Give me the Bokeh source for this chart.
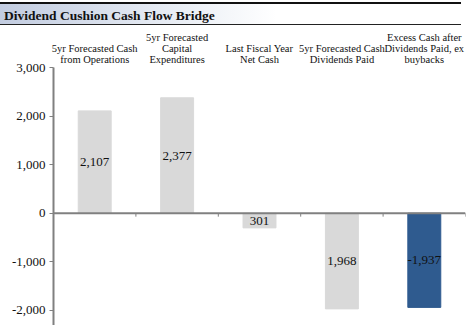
from bokeh.plotting import figure
from bokeh.models import (Div, Span, FixedTicker, NumeralTickFormatter, LinearAxis,
                          ColumnDataSource, Range1d)
from bokeh.layouts import column
from bokeh.embed import file_html
from bokeh.resources import INLINE
from bokeh.core.properties import value

title = "Dividend Cushion Cash Flow Bridge"
categories = [
    "5yr Forecasted Cash\nfrom Operations",
    "5yr Forecasted\nCapital\nExpenditures",
    "Last Fiscal Year\nNet Cash",
    "5yr Forecasted Cash\nDividends Paid",
    "Excess Cash after\nDividends Paid, ex\nbuybacks",
]
values = [2107, 2377, -301, -1968, -1937]
labels = ["2,107", "2,377", "301", "1,968", "-1,937"]
colors = ["#d9d9d9", "#d9d9d9", "#d9d9d9", "#d9d9d9", "#2f5b8f"]
y_ticks = [-2000, -1000, 0, 1000, 2000, 3000]

FONT = "Liberation Serif"
n = len(categories)
xs = list(range(1, n + 1))

src = ColumnDataSource(dict(
    x=xs, top=values, bottom=[0] * n, color=colors,
    label=labels, ly=[v / 2 for v in values],
))

head = Div(
    width=471, height=28, margin=0,
    text=('<div style="margin-top:2px;height:23px;border-top:2px solid #111;'
          'border-bottom:1px solid #222;'
          'background:linear-gradient(to right,#c2cce0 0%,#e6ebf3 35%,#ffffff 60%);'
          'font-family:\'Liberation Serif\';font-weight:bold;font-size:13.5px;'
          'line-height:24px;padding-left:4px;color:#111;width:461px;">'
          + title + '</div>'),
)

p = figure(width=471, height=297, output_backend="svg", toolbar_location=None,
           title_location=None, margin=0,
           x_range=Range1d(0.5, n + 0.5), y_range=Range1d(-2310, 3000),
           x_axis_location=None, y_axis_location=None,
           min_border_left=53, min_border_right=6, min_border_top=39, min_border_bottom=0)
p.outline_line_color = None
p.xgrid.visible = False
p.ygrid.visible = False

p.vbar(x="x", top="top", bottom="bottom", width=0.4, color="color", source=src)
p.text(x="x", y="ly", text="label", source=src, text_align="center",
       text_baseline="middle", text_font=value(FONT), text_font_size="13px",
       text_color="#111111")

# zero line with category-boundary ticks
p.add_layout(Span(location=0, dimension="width", line_color="#808080", line_width=2))
bounds = [i + 0.5 for i in xs]
p.segment(x0=bounds, y0=[0] * n, x1=bounds, y1=[-70] * n, line_color="#808080",
          line_width=1)

yax = LinearAxis(ticker=FixedTicker(ticks=y_ticks),
                 formatter=NumeralTickFormatter(format="0,0"))
yax.axis_line_color = "#808080"
yax.axis_line_width = 2
yax.major_tick_line_color = "#808080"
yax.major_tick_out = 4
yax.major_tick_in = 0
yax.minor_tick_line_color = None
yax.major_label_text_font = FONT
yax.major_label_text_font_size = "13px"
yax.major_label_text_color = "#111111"
yax.major_label_standoff = 4
p.add_layout(yax, "left")

xax = LinearAxis(ticker=FixedTicker(ticks=xs),
                 major_label_overrides={x: c for x, c in zip(xs, categories)})
xax.axis_line_color = None
xax.major_tick_line_color = None
xax.major_tick_out = 0
xax.major_tick_in = 0
xax.minor_tick_line_color = None
xax.major_label_text_font = FONT
xax.major_label_text_font_size = "10.5px"
xax.major_label_text_line_height = 1.0
xax.major_label_text_color = "#111111"
xax.major_label_standoff = 3
p.add_layout(xax, "above")

layout = column(head, p, spacing=0)
open("out.html", "w").write(file_html(layout, INLINE))
